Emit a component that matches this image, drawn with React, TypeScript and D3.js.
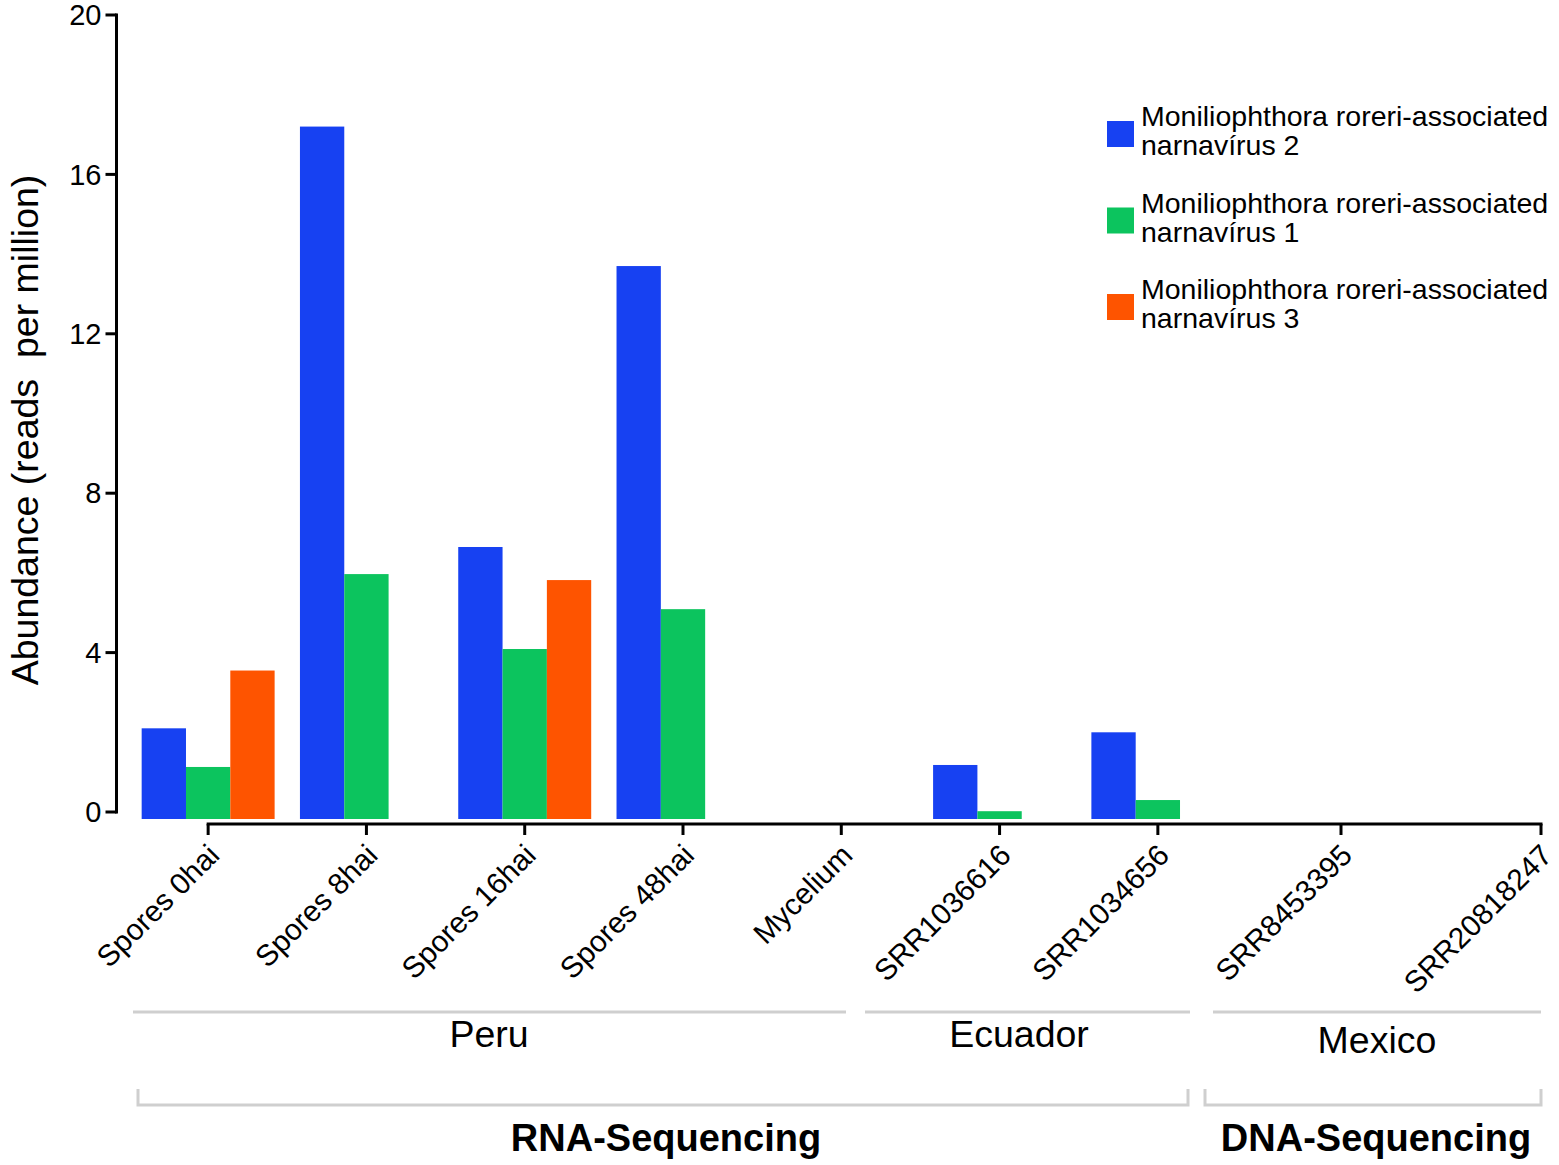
import React from 'react';
import * as d3 from 'd3';

// sample names, RNA-seq first, then DNA-seq
const rnaSamples = ['Spores 0hai', 'Spores 8hai', 'Spores 16hai', 'Spores 48hai', 'Mycelium', 'SRR1036616', 'SRR1034656'];
const dnaSamples = ['SRR8453395', 'SRR20818247'];
const samples = [...rnaSamples, ...dnaSamples];

const seriesNames = [
  'Moniliophthora roreri-associated narnavírus 2',
  'Moniliophthora roreri-associated narnavírus 1',
  'Moniliophthora roreri-associated narnavírus 3',
];
const seriesColors = ['#1741f2', '#0cc45e', '#fe5400'];

// reads per million, 0 = not detected
const mrav2 = [2.1, 17.2, 6.65, 13.7, 0, 1.18, 2.0, 0, 0];
const mrav1 = [1.13, 5.97, 4.09, 5.09, 0, 0.02, 0.3, 0, 0];
const mrav3 = [3.55, 0, 5.82, 0, 0, 0, 0, 0, 0];
const seriesValues = [mrav2, mrav1, mrav3];

const yTicks = [0, 4, 8, 12, 16, 20];

const countries = ['Peru', 'Ecuador', 'Mexico'];
const methods = ['RNA-Sequencing', 'DNA-Sequencing'];

const W = 1559;
const H = 1165;
const FONT = '"Liberation Sans", Arial, Helvetica, sans-serif';

export default function App() {
  const y = d3.scaleLinear().domain([0, 20]).range([812, 15]);
  const axisX = 116.5;
  const axisY = 824;
  const barDrop = 7; // bars run a little below the zero tick

  const xRna = d3.scaleBand<string>()
    .domain(rnaSamples)
    .range([129, 1237])
    .paddingInner(0.16)
    .paddingOuter(0.08);
  const xDna = d3.scalePoint<string>().domain(dnaSamples).range([1341, 1541]);
  const inner = d3.scaleBand<number>().domain(d3.range(seriesNames.length)).range([0, xRna.bandwidth()]);

  const tickX = (s: string) =>
    xRna.domain().includes(s) ? (xRna(s) as number) + xRna.bandwidth() / 2 : (xDna(s) as number);

  const firstTick = tickX(samples[0]);
  const lastTick = tickX(samples[samples.length - 1]);

  // group annotation layout: [start, end, label centre, baseline]
  const countryLayout = [
    [133, 846, 489, 1047],
    [865, 1190, 1019, 1047],
    [1213, 1541, 1377, 1053],
  ];
  const methodLayout = [
    [138, 1188, 666],
    [1205, 1541, 1376],
  ];

  return (
    <div>
      <style>{`body{margin:0;background:#fff}`}</style>
      <svg width={W} height={H} style={{ display: 'block', fontFamily: FONT }}>
        {/* bars */}
        {rnaSamples.map((s, i) => (
          <g key={s} transform={`translate(${xRna(s)},0)`}>
            {seriesValues.map((vals, k) =>
              vals[i] > 0 ? (
                <rect
                  key={k}
                  x={inner(k)}
                  y={y(vals[i])}
                  width={inner.bandwidth()}
                  height={y(0) - y(vals[i]) + barDrop}
                  fill={seriesColors[k]}
                />
              ) : null
            )}
          </g>
        ))}

        {/* y axis */}
        <line x1={axisX} x2={axisX} y1={y(20) - 1.5} y2={y(0) + 1.5} stroke="#000" strokeWidth={3} />
        {yTicks.map((t) => (
          <g key={t} transform={`translate(0,${y(t)})`}>
            <line x1={axisX - 11} x2={axisX} stroke="#000" strokeWidth={3} />
            <text x={axisX - 15} dy="0.35em" textAnchor="end" fontSize={29}>
              {t}
            </text>
          </g>
        ))}
        <text
          transform={`translate(38,430) rotate(-90)`}
          textAnchor="middle"
          fontSize={37.5}
          style={{ whiteSpace: 'pre' }}
        >
          {'Abundance (reads  per million)'}
        </text>

        {/* x axis */}
        <line x1={firstTick - 1.5} x2={lastTick + 1.5} y1={axisY} y2={axisY} stroke="#000" strokeWidth={3} />
        {samples.map((s) => {
          const tx = tickX(s);
          return (
            <g key={s}>
              <line x1={tx} x2={tx} y1={axisY} y2={axisY + 11} stroke="#000" strokeWidth={3} />
              <text
                transform={`translate(${tx + 13},${axisY + 33}) rotate(-45)`}
                textAnchor="end"
                fontSize={29.7}
              >
                {s}
              </text>
            </g>
          );
        })}

        {/* country groups */}
        {countries.map((c, i) => {
          const [a, b, cx, by] = countryLayout[i];
          return (
            <g key={c}>
              <line x1={a} x2={b} y1={1012} y2={1012} stroke="#cfcfcf" strokeWidth={3} />
              <text x={cx} y={by} textAnchor="middle" fontSize={37.5}>
                {c}
              </text>
            </g>
          );
        })}

        {/* sequencing brackets */}
        {methods.map((m, i) => {
          const [a, b, cx] = methodLayout[i];
          return (
            <g key={m}>
              <path d={`M${a},1089V1105H${b}V1089`} fill="none" stroke="#cfcfcf" strokeWidth={3} />
              <text x={cx} y={1151} textAnchor="middle" fontSize={38} fontWeight="bold">
                {m}
              </text>
            </g>
          );
        })}

        {/* legend */}
        {seriesNames.map((name, k) => {
          const top = 121 + k * 86.5;
          const words = name.split(' ');
          return (
            <g key={name}>
              <rect x={1107} y={top} width={27} height={26} fill={seriesColors[k]} />
              <text x={1141} y={top + 5} fontSize={28.5}>
                <tspan x={1141}>{words.slice(0, 2).join(' ')}</tspan>
                <tspan x={1141} dy={29}>{words.slice(2).join(' ')}</tspan>
              </text>
            </g>
          );
        })}
      </svg>
    </div>
  );
}
